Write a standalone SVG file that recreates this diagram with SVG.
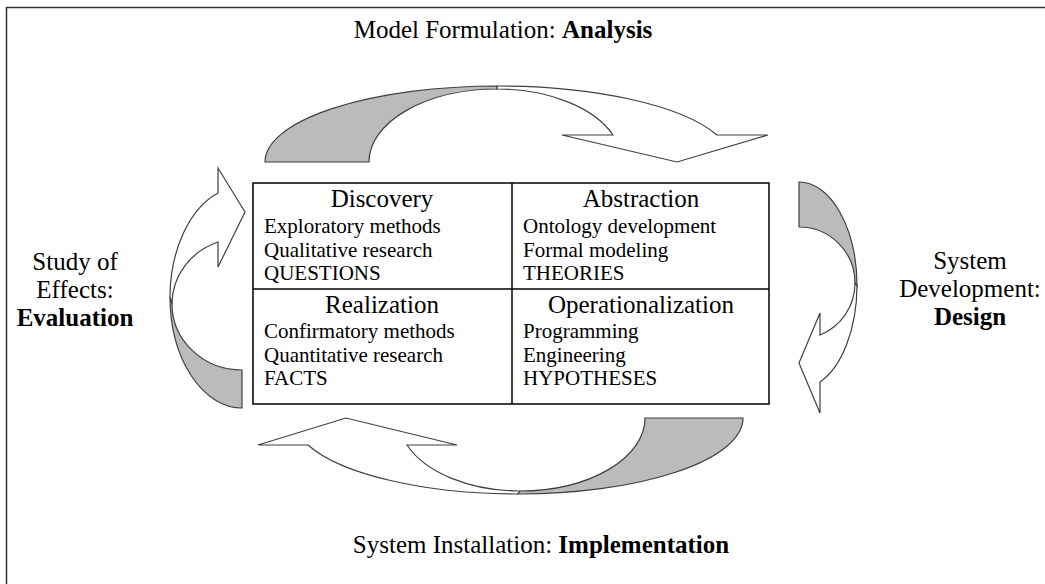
<svg xmlns="http://www.w3.org/2000/svg" width="1045" height="584" viewBox="0 0 1045 584" font-family="'Liberation Serif', 'DejaVu Serif', serif">
<style>
text{font-family:"Liberation Serif","DejaVu Serif",serif;fill:#000}
.t{font-size:25px}
.h{font-size:25px;text-anchor:middle}
.b{font-size:21px}
.c{text-anchor:middle}
.bold{font-weight:bold}
.w{fill:#fff;stroke:#404040;stroke-width:1.2;stroke-linejoin:miter}
.g{fill:#bbbbbb;stroke:#404040;stroke-width:1.2}
.cell{fill:#fff;stroke:#000;stroke-width:1.5}
</style>
<rect width="1045" height="584" fill="#fff"/>
<path d="M6.5,584 V7.5 H1045" fill="none" stroke="#333" stroke-width="1.5"/>

<g id="title-top"><text class="t c" x="503" y="38">Model Formulation: <tspan class="bold">Analysis</tspan></text></g>
<g id="title-bottom"><text class="t c" x="541" y="553">System Installation: <tspan class="bold">Implementation</tspan></text></g>
<g id="title-left">
<text class="t c" x="75" y="270">Study of</text>
<text class="t c" x="75" y="298">Effects:</text>
<text class="t c bold" x="75" y="326">Evaluation</text>
</g>
<g id="title-right">
<text class="t c" x="970" y="269">System</text>
<text class="t c" x="970" y="297">Development:</text>
<text class="t c bold" x="970" y="325">Design</text>
</g>

<g id="connectors">
<g id="arrow-top">
<path class="w" d="M497,86 A233,76 0 0 1 717,135 L768,135 L677,162 L562,135 L613,135 A125,73 0 0 0 497,89 Z"/>
<path class="g" d="M265,162 A233,76 0 0 1 497,86 L497,89 A128,73 0 0 0 369,162 Z"/>
</g>
<g id="arrow-right">
<path class="w" d="M857,286 A58,104 0 0 1 820,382 L820,413 L799,363 L820,313 L820,335 A56,56 0 0 0 855,283 Z"/>
<path class="g" d="M799,182 A58,104 0 0 1 857,286 L855,283 A56,56 0 0 0 799,227 Z"/>
</g>
<g id="arrow-bottom">
<path class="w" d="M518,494 A225,76 0 0 1 308,445 L258,445 L346,418 L457,445 L407,445 A122,73 0 0 0 520,491 Z"/>
<path class="g" d="M743,418 A225,76 0 0 1 518,494 L520,491 A125,73 0 0 0 645,418 Z"/>
</g>
<g id="arrow-left">
<path class="w" d="M170,297 A72,111 0 0 1 218,193 L218,168 L245,212 L218,267 L218,242 A70,66 0 0 0 172,304 Z"/>
<path class="g" d="M242,408 A72,111 0 0 1 170,297 L172,304 A70,66 0 0 0 242,370 Z"/>
</g>
</g>

<g id="table">
<rect class="cell" x="253" y="183" width="516" height="221"/>
<line x1="512" y1="183" x2="512" y2="404" stroke="#000" stroke-width="1.5"/>
<line x1="253" y1="289" x2="769" y2="289" stroke="#000" stroke-width="1.5"/>
</g>

<g id="discovery">
<text class="h" x="382" y="207">Discovery</text>
<text class="b" x="264" y="233">Exploratory methods</text>
<text class="b" x="264" y="257">Qualitative research</text>
<text class="b" x="264" y="280">QUESTIONS</text>
</g>
<g id="abstraction">
<text class="h" x="641" y="207">Abstraction</text>
<text class="b" x="523" y="233">Ontology development</text>
<text class="b" x="523" y="257">Formal modeling</text>
<text class="b" x="523" y="280">THEORIES</text>
</g>
<g id="realization">
<text class="h" x="382" y="313">Realization</text>
<text class="b" x="264" y="338">Confirmatory methods</text>
<text class="b" x="264" y="362">Quantitative research</text>
<text class="b" x="264" y="385">FACTS</text>
</g>
<g id="operationalization">
<text class="h" x="641" y="313">Operationalization</text>
<text class="b" x="523" y="338">Programming</text>
<text class="b" x="523" y="362">Engineering</text>
<text class="b" x="523" y="385">HYPOTHESES</text>
</g>
</svg>
